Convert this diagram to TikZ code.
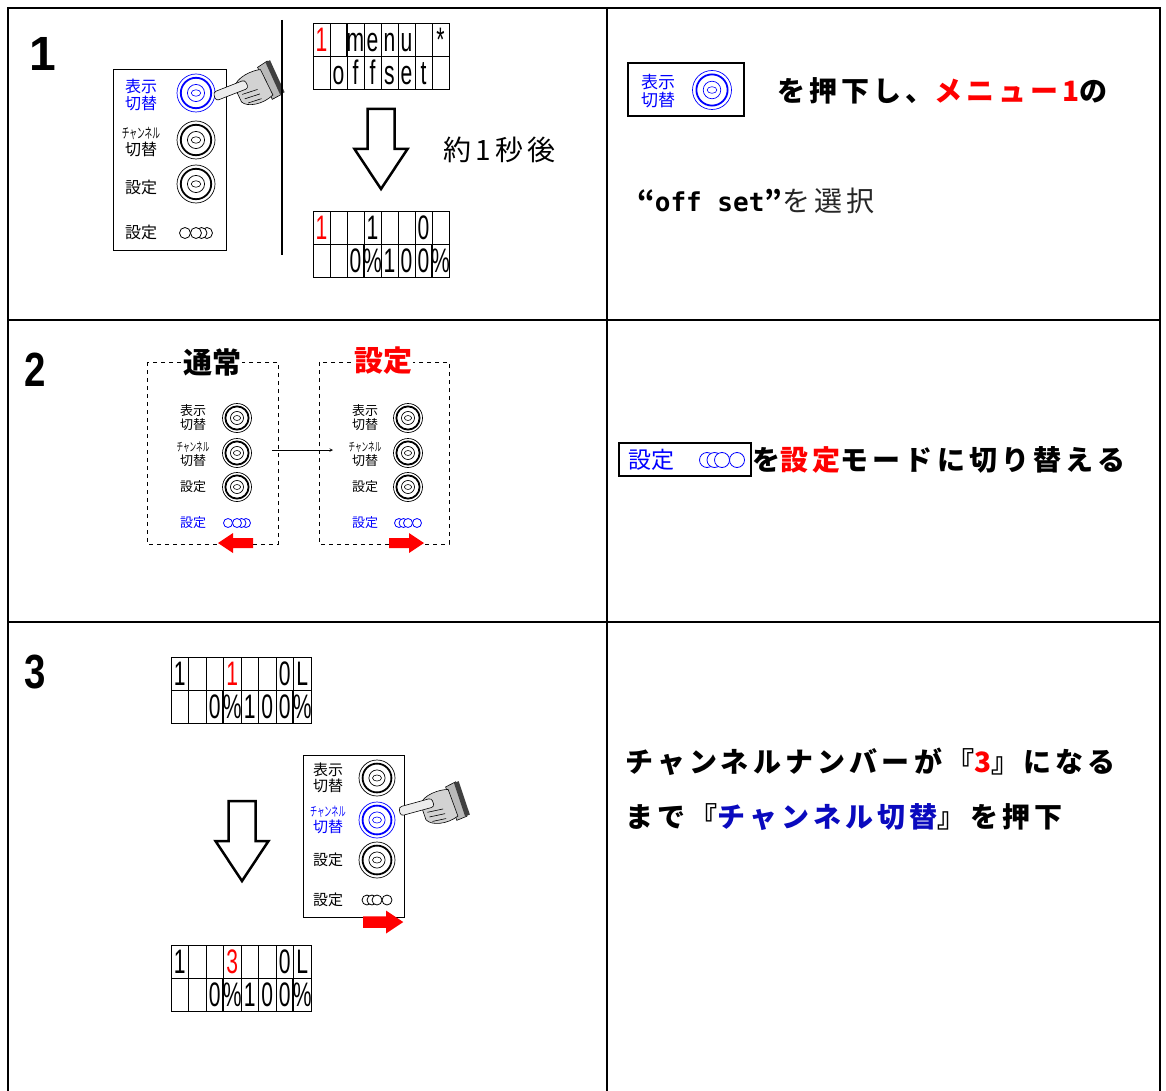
\documentclass[tikz,border=0pt]{standalone}
\usepackage{fontspec}
\setmainfont{Liberation Sans}
\newfontfamily\jp{Noto Sans CJK JP}
\newfontfamily\jpsp[LetterSpace=15]{Noto Sans CJK JP}
\newfontfamily\mono{DejaVu Sans Mono}
\usetikzlibrary{positioning, arrows}

\definecolor{keyblue}{RGB}{0,0,255}
\definecolor{darkblue}{RGB}{10,10,190}

\tikzstyle{frame} = [line width=2pt]
\tikzstyle{rownum} = [font=\fontsize{48}{48}\selectfont\bfseries, inner sep=0pt]
\tikzstyle{bigtxt} = [font=\jpsp\fontsize{28}{28}\selectfont\bfseries, anchor=west, inner sep=0pt]
\tikzstyle{title} = [font=\jp\fontsize{29}{29}\selectfont\bfseries, fill=white, inner sep=1pt]
\tikzstyle{panel} = [draw, line width=0.8pt]
\tikzstyle{dashbox} = [draw, dash pattern=on 4pt off 4pt, line width=0.7pt]
\tikzstyle{keylbl} = [font=\jp\fontsize{16}{17}\selectfont, align=center, inner sep=0pt]
\tikzstyle{midkey} = [font=\jp\fontsize{15}{16}\selectfont, align=center, inner sep=0pt]
\tikzstyle{smallkey} = [font=\jp\fontsize{13}{14}\selectfont, align=center, inner sep=0pt]
\tikzstyle{lcdcell} = [draw, line width=0.8pt, minimum height=33pt, inner sep=0pt, text height=24pt, text depth=0pt, font=\fontsize{34}{34}\selectfont]
\tikzstyle{thinarrow} = [->, >=stealth, line width=0.6pt]

\tikzset{
  % push button: double rim, inner ring, small cap
  pics/btn/.style={code={
    \draw[line width=0.7pt] (0,0) circle[radius=#1];
    \draw[line width=1.8pt] (0,0) circle[radius=0.8*#1];
    \draw[line width=0.7pt] (0,0) circle[radius=0.45*#1];
    \draw[line width=0.6pt] (0,0) ellipse[x radius=0.25*#1, y radius=0.17*#1];
  }},
  % slide switch, knob left / knob right
  pics/togL/.style={code={
    \foreach \d in {2,1,0,-2}
      \draw[fill=white, line width=0.8pt] (\d*#1,0) circle[radius=#1];
  }},
  pics/togR/.style={code={
    \foreach \d in {-2,-1,0,2}
      \draw[fill=white, line width=0.8pt] (\d*#1,0) circle[radius=#1];
  }},
  pics/redarr/.style={code={
    \fill[red] (0,-5) -- (20,-5) -- (20,-10) -- (35,0) -- (20,10) -- (20,5) -- (0,5) -- cycle;
  }},
  pics/bigdown/.style={code={
    \draw[line width=2.5pt, fill=white, line join=miter] (-13.5,-40) -- (13.5,-40) -- (13.5,0) -- (26.5,0) -- (0,40) -- (-26.5,0) -- (-13.5,0) -- cycle;
  }},
  % pointing hand, fingertip at the origin
  pics/hand/.style={code={
    \draw[fill=gray!55, line width=0.6pt] (50,-16) -- (61,-19) -- (65,17) -- (54,19) -- cycle;
    \fill[black!75] (59,-18) -- (64,-19) -- (68,16) -- (63,17) -- cycle;
    \draw[fill=gray!35, line width=0.6pt] (22,-4) .. controls (26,-13) and (44,-15) .. (52,-13)
      -- (56,15) .. controls (44,21) and (28,19) .. (24,12) -- cycle;
    \draw[line width=0.6pt] (27,5) -- (43,5) (28,10) -- (44,10) (30,15) -- (44,15);
    \draw[fill=gray!15, line width=0.6pt, rounded corners=3pt] (0,-6) -- (34,-8) -- (35,1) -- (0,3) -- cycle;
  }}
}

% one line of the character display: x, y, cell width, characters
\newcommand\lcdrow[4]{%
  \foreach \ch [count=\k from 0] in {#4}
    \node[lcdcell, minimum width=#3pt] at ({#1+(\k+0.5)*#3},{#2+16.5}) {\scalebox{0.62}[1]{\ch}};
}
\newcommand\lcd[5]{%
  \lcdrow{#1}{#2}{#3}{#4}
  \lcdrow{#1}{#2+33}{#3}{#5}
}
\newcommand\chsw[1]{{\fontsize{#1}{#1}\selectfont\scalebox{0.55}[1]{チャンネル}}}

\begin{document}
\begin{tikzpicture}[x=1pt, y=-1pt]
\useasboundingbox (0,0) rectangle (1166,1091);

% table
\draw[frame] (8,1091) -- (8,8) -- (1160,8) -- (1160,1091);
\draw[frame] (8,320) -- (1160,320);
\draw[frame] (8,622) -- (1160,622);
\draw[frame] (607,8) -- (607,1091);

% ---- step 1
\node[rownum] (n1) at (43,54) {1};
\draw[panel] (113,69) rectangle (226,250);
\node[keylbl, keyblue] (disp1) at (141,95) {表示\\切替};
\node[keylbl] (chan1) at (141,142) {\chsw{14}\\切替};
\node[keylbl] (set1) at (141,187) {設定};
\node[keylbl] (mode1) at (141,232) {設定};
\pic[keyblue] at (196,93) {btn=19};
\pic at (196,140) {btn=19};
\pic at (196,184) {btn=19};
\pic at (196,233) {togL=5.5};
\pic[rotate=18] at (215,98) {hand};
\draw[line width=1.5pt] (282,20) -- (282,255);

\lcd{313}{23}{17}{{\color{red}1},{},m,e,n,u,{},*}{{},o,f,f,s,e,t,{}}
\pic at (381,149) {bigdown};
\node[font=\jpsp\fontsize{28}{28}\selectfont, anchor=west, inner sep=0pt] (later) at (443,150) {約1秒後};
\lcd{313}{211}{17}{{\color{red}1},{},{},1,{},{},0,{}}{{},{},0,\%,1,0,0,\%}

\draw[panel, line width=1.2pt] (628,63) rectangle (744,116);
\node[keylbl, font=\jp\fontsize{17}{18}\selectfont, keyblue] (dispkey) at (658,91) {表示\\切替};
\pic[keyblue] at (712,90) {btn=19.5};
\node[bigtxt] (r1a) at (777,91) {を押下し、{\color{red}メニュー1}の};
\node[bigtxt] (r1b) at (637,201) {“{\mono\fontsize{26}{26}\selectfont off set}”{\mdseries\color{black!85}を選択}};

% ---- step 2
\node[rownum] (n2) at (35,370) {\scalebox{0.8}[1]{2}};
\draw[dashbox] (147,362) rectangle (278,544);
\draw[dashbox] (319,362) rectangle (449,544);
\node[title] (normal) at (212,362) {通常};
\node[title, text=red] (setting) at (383,361) {設定};

\node[smallkey] (dispL) at (193,418) {表示\\切替};
\node[smallkey] (chanL) at (193,454) {\chsw{12}\\切替};
\node[smallkey] (setL) at (193,487) {設定};
\node[smallkey, keyblue] (modeL) at (193,523) {設定};
\pic at (237,418) {btn=14.5};
\pic at (237,453) {btn=14.5};
\pic at (237,487) {btn=14.5};
\pic[keyblue] at (237,523) {togL=4.5};
\pic[xscale=-1] at (253,543) {redarr};

\node[smallkey] (dispR) at (365,418) {表示\\切替};
\node[smallkey] (chanR) at (365,454) {\chsw{12}\\切替};
\node[smallkey] (setR) at (365,487) {設定};
\node[smallkey, keyblue] (modeR) at (365,523) {設定};
\pic at (408,418) {btn=14.5};
\pic at (408,453) {btn=14.5};
\pic at (408,487) {btn=14.5};
\pic[keyblue] at (408,523) {togR=4.5};
\pic at (389,543) {redarr};

\coordinate (swfrom) at (272,450);
\coordinate (swto) at (333,450);
\draw[thinarrow] (swfrom) -- (swto);

\draw[panel, line width=1.2pt] (619,443) rectangle (751,476);
\node[font=\jp\fontsize{23}{23}\selectfont, keyblue, inner sep=0pt] (modekey) at (651,460) {設定};
\pic[keyblue] at (722,460) {togR=7.5};
\node[bigtxt] (r2) at (752,460) {を{\color{red}設定}モードに切り替える};

% ---- step 3
\node[rownum] (n3) at (35,672) {\scalebox{0.8}[1]{3}};
\lcd{171}{657}{17.5}{1,{},{},{\color{red}1},{},{},0,L}{{},{},0,\%,1,0,0,\%}
\pic at (242,841) {bigdown};
\draw[panel] (303,755) rectangle (404,917);
\node[midkey] (disp3) at (328,778) {表示\\切替};
\node[midkey, keyblue] (chan3) at (328,820) {\chsw{13}\\切替};
\node[midkey] (set3) at (328,860) {設定};
\node[midkey] (mode3) at (328,900) {設定};
\pic at (377,778) {btn=18};
\pic[keyblue] at (377,820) {btn=18};
\pic at (377,860) {btn=18};
\pic at (377,900) {togR=5};
\pic[scale=1.15] at (363,922) {redarr};
\pic[rotate=12] at (400,813) {hand};
\lcd{171}{945}{17.5}{1,{},{},{\color{red}3},{},{},0,L}{{},{},0,\%,1,0,0,\%}

\node[bigtxt] (r3a) at (625,762) {チャンネルナンバーが『{\color{red}3}』になる};
\node[bigtxt] (r3b) at (625,817) {まで『{\color{darkblue}チャンネル切替}』を押下};
\end{tikzpicture}
\end{document}
